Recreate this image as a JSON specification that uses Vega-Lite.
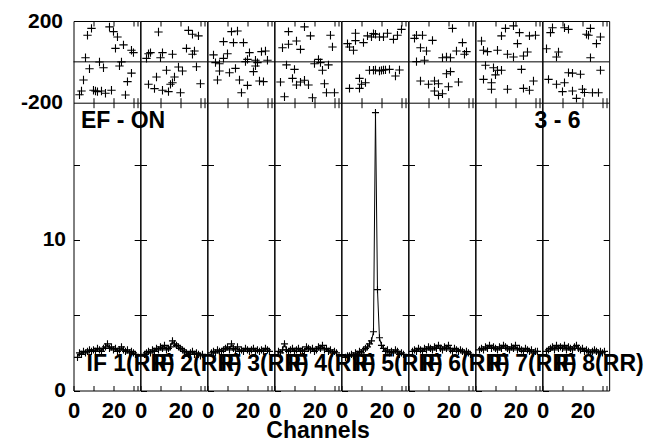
{
"$schema": "https://vega.github.io/schema/vega-lite/v6.json",
"padding": {"left": 19.5, "top": 9, "right": 0, "bottom": 0},
"background": "white",
"datasets": {
"amp": [
{"i":1,"c":2,"a":2.2},{"i":1,"c":3,"a":2.5},{"i":1,"c":4,"a":2.4},{"i":1,"c":5,"a":2.6},{"i":1,"c":6,"a":2.5},{"i":1,"c":7,"a":2.6},{"i":1,"c":8,"a":2.7},{"i":1,"c":9,"a":2.6},{"i":1,"c":10,"a":2.7},{"i":1,"c":11,"a":2.6},{"i":1,"c":12,"a":2.8},{"i":1,"c":13,"a":2.7},{"i":1,"c":14,"a":2.6},{"i":1,"c":15,"a":2.8},{"i":1,"c":16,"a":2.9},{"i":1,"c":17,"a":3.1},{"i":1,"c":18,"a":2.8},{"i":1,"c":19,"a":2.9},{"i":1,"c":20,"a":2.7},{"i":1,"c":21,"a":2.8},{"i":1,"c":22,"a":2.6},{"i":1,"c":23,"a":2.7},{"i":1,"c":24,"a":2.9},{"i":1,"c":25,"a":2.7},{"i":1,"c":26,"a":2.6},{"i":1,"c":27,"a":2.7},{"i":1,"c":28,"a":2.5},{"i":1,"c":29,"a":2.6},{"i":1,"c":30,"a":2.5},{"i":1,"c":31,"a":2.4},
{"i":2,"c":2,"a":2.4},{"i":2,"c":3,"a":2.5},{"i":2,"c":4,"a":2.6},{"i":2,"c":5,"a":2.5},{"i":2,"c":6,"a":2.7},{"i":2,"c":7,"a":2.6},{"i":2,"c":8,"a":2.8},{"i":2,"c":9,"a":2.7},{"i":2,"c":10,"a":2.9},{"i":2,"c":11,"a":2.8},{"i":2,"c":12,"a":3.0},{"i":2,"c":13,"a":2.7},{"i":2,"c":14,"a":2.8},{"i":2,"c":15,"a":2.9},{"i":2,"c":16,"a":3.3},{"i":2,"c":17,"a":3.1},{"i":2,"c":18,"a":3.0},{"i":2,"c":19,"a":2.9},{"i":2,"c":20,"a":2.8},{"i":2,"c":21,"a":2.7},{"i":2,"c":22,"a":2.6},{"i":2,"c":23,"a":2.5},{"i":2,"c":24,"a":2.4},{"i":2,"c":25,"a":2.5},{"i":2,"c":26,"a":2.6},{"i":2,"c":27,"a":2.4},{"i":2,"c":28,"a":2.5},{"i":2,"c":29,"a":2.4},{"i":2,"c":30,"a":2.3},{"i":2,"c":31,"a":2.4},
{"i":3,"c":2,"a":2.5},{"i":3,"c":3,"a":2.6},{"i":3,"c":4,"a":2.5},{"i":3,"c":5,"a":2.7},{"i":3,"c":6,"a":2.6},{"i":3,"c":7,"a":2.6},{"i":3,"c":8,"a":2.7},{"i":3,"c":9,"a":2.8},{"i":3,"c":10,"a":2.9},{"i":3,"c":11,"a":2.7},{"i":3,"c":12,"a":3.1},{"i":3,"c":13,"a":2.8},{"i":3,"c":14,"a":2.7},{"i":3,"c":15,"a":2.9},{"i":3,"c":16,"a":2.6},{"i":3,"c":17,"a":2.7},{"i":3,"c":18,"a":2.6},{"i":3,"c":19,"a":2.8},{"i":3,"c":20,"a":2.7},{"i":3,"c":21,"a":2.6},{"i":3,"c":22,"a":2.7},{"i":3,"c":23,"a":2.8},{"i":3,"c":24,"a":2.6},{"i":3,"c":25,"a":2.7},{"i":3,"c":26,"a":2.6},{"i":3,"c":27,"a":2.7},{"i":3,"c":28,"a":2.6},{"i":3,"c":29,"a":2.8},{"i":3,"c":30,"a":2.7},{"i":3,"c":31,"a":2.6},
{"i":4,"c":2,"a":2.6},{"i":4,"c":3,"a":2.5},{"i":4,"c":4,"a":2.7},{"i":4,"c":5,"a":3.1},{"i":4,"c":6,"a":2.7},{"i":4,"c":7,"a":2.6},{"i":4,"c":8,"a":2.7},{"i":4,"c":9,"a":2.8},{"i":4,"c":10,"a":2.6},{"i":4,"c":11,"a":2.7},{"i":4,"c":12,"a":2.8},{"i":4,"c":13,"a":2.6},{"i":4,"c":14,"a":2.7},{"i":4,"c":15,"a":2.6},{"i":4,"c":16,"a":2.9},{"i":4,"c":17,"a":2.8},{"i":4,"c":18,"a":2.7},{"i":4,"c":19,"a":2.8},{"i":4,"c":20,"a":2.6},{"i":4,"c":21,"a":2.7},{"i":4,"c":22,"a":2.9},{"i":4,"c":23,"a":2.8},{"i":4,"c":24,"a":3.0},{"i":4,"c":25,"a":2.7},{"i":4,"c":26,"a":2.8},{"i":4,"c":27,"a":2.6},{"i":4,"c":28,"a":2.7},{"i":4,"c":29,"a":2.5},{"i":4,"c":30,"a":2.6},{"i":4,"c":31,"a":2.5},
{"i":5,"c":2,"a":2.2},{"i":5,"c":3,"a":2.3},{"i":5,"c":4,"a":2.3},{"i":5,"c":5,"a":2.4},{"i":5,"c":6,"a":2.3},{"i":5,"c":7,"a":2.5},{"i":5,"c":8,"a":2.4},{"i":5,"c":9,"a":2.6},{"i":5,"c":10,"a":2.5},{"i":5,"c":11,"a":2.7},{"i":5,"c":12,"a":2.8},{"i":5,"c":13,"a":2.9},{"i":5,"c":14,"a":3.1},{"i":5,"c":15,"a":3.3},{"i":5,"c":16,"a":3.9},{"i":5,"c":17,"a":18.46},{"i":5,"c":18,"a":6.7},{"i":5,"c":19,"a":3.5},{"i":5,"c":20,"a":3.0},{"i":5,"c":21,"a":2.8},{"i":5,"c":22,"a":2.6},{"i":5,"c":23,"a":2.7},{"i":5,"c":24,"a":2.5},{"i":5,"c":25,"a":2.6},{"i":5,"c":26,"a":2.5},{"i":5,"c":27,"a":2.7},{"i":5,"c":28,"a":2.6},{"i":5,"c":29,"a":2.4},{"i":5,"c":30,"a":2.5},{"i":5,"c":31,"a":2.4},
{"i":6,"c":2,"a":2.6},{"i":6,"c":3,"a":2.7},{"i":6,"c":4,"a":2.6},{"i":6,"c":5,"a":2.8},{"i":6,"c":6,"a":2.7},{"i":6,"c":7,"a":2.6},{"i":6,"c":8,"a":2.8},{"i":6,"c":9,"a":2.7},{"i":6,"c":10,"a":2.9},{"i":6,"c":11,"a":2.8},{"i":6,"c":12,"a":2.7},{"i":6,"c":13,"a":2.9},{"i":6,"c":14,"a":2.8},{"i":6,"c":15,"a":3.0},{"i":6,"c":16,"a":2.8},{"i":6,"c":17,"a":2.7},{"i":6,"c":18,"a":2.9},{"i":6,"c":19,"a":2.8},{"i":6,"c":20,"a":3.0},{"i":6,"c":21,"a":2.7},{"i":6,"c":22,"a":2.6},{"i":6,"c":23,"a":2.8},{"i":6,"c":24,"a":2.7},{"i":6,"c":25,"a":2.6},{"i":6,"c":26,"a":2.7},{"i":6,"c":27,"a":2.6},{"i":6,"c":28,"a":2.5},{"i":6,"c":29,"a":2.6},{"i":6,"c":30,"a":2.5},{"i":6,"c":31,"a":2.4},
{"i":7,"c":2,"a":2.7},{"i":7,"c":3,"a":2.8},{"i":7,"c":4,"a":2.7},{"i":7,"c":5,"a":2.9},{"i":7,"c":6,"a":2.8},{"i":7,"c":7,"a":3.0},{"i":7,"c":8,"a":2.8},{"i":7,"c":9,"a":2.9},{"i":7,"c":10,"a":2.8},{"i":7,"c":11,"a":2.7},{"i":7,"c":12,"a":2.9},{"i":7,"c":13,"a":2.8},{"i":7,"c":14,"a":3.0},{"i":7,"c":15,"a":2.9},{"i":7,"c":16,"a":2.8},{"i":7,"c":17,"a":2.7},{"i":7,"c":18,"a":2.9},{"i":7,"c":19,"a":2.8},{"i":7,"c":20,"a":3.0},{"i":7,"c":21,"a":2.7},{"i":7,"c":22,"a":2.8},{"i":7,"c":23,"a":2.7},{"i":7,"c":24,"a":2.6},{"i":7,"c":25,"a":2.8},{"i":7,"c":26,"a":2.7},{"i":7,"c":27,"a":2.6},{"i":7,"c":28,"a":2.7},{"i":7,"c":29,"a":2.5},{"i":7,"c":30,"a":2.6},{"i":7,"c":31,"a":2.6},
{"i":8,"c":2,"a":2.6},{"i":8,"c":3,"a":2.7},{"i":8,"c":4,"a":2.8},{"i":8,"c":5,"a":2.9},{"i":8,"c":6,"a":2.7},{"i":8,"c":7,"a":3.0},{"i":8,"c":8,"a":2.8},{"i":8,"c":9,"a":2.9},{"i":8,"c":10,"a":2.8},{"i":8,"c":11,"a":3.0},{"i":8,"c":12,"a":2.7},{"i":8,"c":13,"a":2.9},{"i":8,"c":14,"a":2.8},{"i":8,"c":15,"a":2.7},{"i":8,"c":16,"a":2.9},{"i":8,"c":17,"a":3.0},{"i":8,"c":18,"a":2.8},{"i":8,"c":19,"a":2.7},{"i":8,"c":20,"a":2.8},{"i":8,"c":21,"a":2.6},{"i":8,"c":22,"a":2.7},{"i":8,"c":23,"a":2.6},{"i":8,"c":24,"a":2.5},{"i":8,"c":25,"a":2.6},{"i":8,"c":26,"a":2.7},{"i":8,"c":27,"a":2.6},{"i":8,"c":28,"a":2.5},{"i":8,"c":29,"a":2.6},{"i":8,"c":30,"a":2.5},{"i":8,"c":31,"a":2.6}
],
"phase": [
{"i":1,"c":9,"p":164},{"i":1,"c":7,"p":130},{"i":1,"c":18,"p":171},{"i":1,"c":20,"p":148},{"i":1,"c":22,"p":122},{"i":1,"c":25,"p":83},{"i":1,"c":21,"p":66},{"i":1,"c":29,"p":57},{"i":1,"c":30,"p":45},{"i":1,"c":6,"p":20},{"i":1,"c":13,"p":-1},{"i":1,"c":24,"p":0},{"i":1,"c":8,"p":-34},{"i":1,"c":15,"p":-29},{"i":1,"c":23,"p":-20},{"i":1,"c":29,"p":-55},{"i":1,"c":5,"p":-89},{"i":1,"c":27,"p":-97},{"i":1,"c":4,"p":-143},{"i":1,"c":3,"p":-161},{"i":1,"c":10,"p":-139},{"i":1,"c":11,"p":-143},{"i":1,"c":12,"p":-146},{"i":1,"c":14,"p":-143},{"i":1,"c":16,"p":-154},{"i":1,"c":19,"p":-139},{"i":1,"c":26,"p":-162},
{"i":2,"c":9,"p":146},{"i":2,"c":24,"p":154},{"i":2,"c":26,"p":135},{"i":2,"c":29,"p":127},{"i":2,"c":23,"p":66},{"i":2,"c":27,"p":53},{"i":2,"c":26,"p":37},{"i":2,"c":5,"p":45},{"i":2,"c":4,"p":40},{"i":2,"c":3,"p":17},{"i":2,"c":11,"p":45},{"i":2,"c":16,"p":37},{"i":2,"c":10,"p":20},{"i":2,"c":28,"p":-24},{"i":2,"c":13,"p":-41},{"i":2,"c":19,"p":-25},{"i":2,"c":21,"p":-45},{"i":2,"c":8,"p":-74},{"i":2,"c":17,"p":-74},{"i":2,"c":4,"p":-110},{"i":2,"c":7,"p":-131},{"i":2,"c":11,"p":-139},{"i":2,"c":15,"p":-110},{"i":2,"c":16,"p":-102},{"i":2,"c":14,"p":-146},{"i":2,"c":20,"p":-151},{"i":2,"c":30,"p":-107},
{"i":3,"c":12,"p":148},{"i":3,"c":15,"p":151},{"i":3,"c":8,"p":99},{"i":3,"c":13,"p":94},{"i":3,"c":18,"p":94},{"i":3,"c":3,"p":34},{"i":3,"c":10,"p":40},{"i":3,"c":8,"p":17},{"i":3,"c":21,"p":45},{"i":3,"c":27,"p":50},{"i":3,"c":29,"p":53},{"i":3,"c":20,"p":12},{"i":3,"c":24,"p":8},{"i":3,"c":30,"p":8},{"i":3,"c":4,"p":-4},{"i":3,"c":6,"p":-9},{"i":3,"c":19,"p":1},{"i":3,"c":25,"p":-4},{"i":3,"c":6,"p":-45},{"i":3,"c":11,"p":-53},{"i":3,"c":14,"p":-32},{"i":3,"c":23,"p":-48},{"i":3,"c":24,"p":-20},{"i":3,"c":5,"p":-89},{"i":3,"c":16,"p":-89},{"i":3,"c":20,"p":-115},{"i":3,"c":26,"p":-94},{"i":3,"c":28,"p":-97},{"i":3,"c":17,"p":-151},
{"i":4,"c":15,"p":171},{"i":4,"c":7,"p":148},{"i":4,"c":18,"p":127},{"i":4,"c":28,"p":130},{"i":4,"c":29,"p":73},{"i":4,"c":4,"p":69},{"i":4,"c":7,"p":86},{"i":4,"c":11,"p":102},{"i":4,"c":13,"p":61},{"i":4,"c":22,"p":12},{"i":4,"c":20,"p":-9},{"i":4,"c":27,"p":-15},{"i":4,"c":23,"p":-4},{"i":4,"c":6,"p":-15},{"i":4,"c":10,"p":-37},{"i":4,"c":24,"p":-41},{"i":4,"c":9,"p":-81},{"i":4,"c":3,"p":-99},{"i":4,"c":13,"p":-99},{"i":4,"c":15,"p":-90},{"i":4,"c":17,"p":-113},{"i":4,"c":11,"p":-113},{"i":4,"c":25,"p":-107},{"i":4,"c":5,"p":-171},{"i":4,"c":19,"p":-176},{"i":4,"c":26,"p":-151},{"i":4,"c":30,"p":-151},
{"i":5,"c":3,"p":89},{"i":5,"c":4,"p":73},{"i":5,"c":6,"p":57},{"i":5,"c":7,"p":140},{"i":5,"c":7,"p":104},{"i":5,"c":11,"p":94},{"i":5,"c":13,"p":127},{"i":5,"c":15,"p":122},{"i":5,"c":16,"p":138},{"i":5,"c":17,"p":135},{"i":5,"c":19,"p":122},{"i":5,"c":21,"p":122},{"i":5,"c":23,"p":140},{"i":5,"c":26,"p":110},{"i":5,"c":28,"p":130},{"i":5,"c":30,"p":159},{"i":5,"c":4,"p":-130},{"i":5,"c":9,"p":-130},{"i":5,"c":10,"p":-110},{"i":5,"c":9,"p":-81},{"i":5,"c":12,"p":-102},{"i":5,"c":14,"p":-41},{"i":5,"c":16,"p":-41},{"i":5,"c":17,"p":-40},{"i":5,"c":19,"p":-45},{"i":5,"c":20,"p":-42},{"i":5,"c":21,"p":-40},{"i":5,"c":22,"p":-39},{"i":5,"c":24,"p":-37},{"i":5,"c":27,"p":-69},{"i":5,"c":29,"p":-40},
{"i":6,"c":3,"p":115},{"i":6,"c":4,"p":130},{"i":6,"c":7,"p":130},{"i":6,"c":12,"p":105},{"i":6,"c":22,"p":164},{"i":6,"c":6,"p":69},{"i":6,"c":9,"p":53},{"i":6,"c":27,"p":94},{"i":6,"c":29,"p":50},{"i":6,"c":28,"p":37},{"i":6,"c":24,"p":53},{"i":6,"c":17,"p":20},{"i":6,"c":19,"p":24},{"i":6,"c":21,"p":20},{"i":6,"c":4,"p":1},{"i":6,"c":8,"p":8},{"i":6,"c":21,"p":-48},{"i":6,"c":19,"p":-58},{"i":6,"c":6,"p":-94},{"i":6,"c":10,"p":-110},{"i":6,"c":13,"p":-94},{"i":6,"c":15,"p":-107},{"i":6,"c":13,"p":-143},{"i":6,"c":15,"p":-164},{"i":6,"c":17,"p":-156},{"i":6,"c":20,"p":-122},{"i":6,"c":25,"p":-99},
{"i":7,"c":3,"p":102},{"i":7,"c":13,"p":127},{"i":7,"c":15,"p":164},{"i":7,"c":19,"p":176},{"i":7,"c":22,"p":143},{"i":7,"c":27,"p":127},{"i":7,"c":30,"p":130},{"i":7,"c":21,"p":89},{"i":7,"c":4,"p":57},{"i":7,"c":6,"p":50},{"i":7,"c":11,"p":57},{"i":7,"c":16,"p":37},{"i":7,"c":19,"p":24},{"i":7,"c":24,"p":29},{"i":7,"c":26,"p":48},{"i":7,"c":5,"p":-17},{"i":7,"c":9,"p":-29},{"i":7,"c":11,"p":-41},{"i":7,"c":13,"p":-41},{"i":7,"c":10,"p":-64},{"i":7,"c":4,"p":-86},{"i":7,"c":8,"p":-102},{"i":7,"c":8,"p":-134},{"i":7,"c":16,"p":-134},{"i":7,"c":23,"p":-37},{"i":7,"c":24,"p":-130},{"i":7,"c":27,"p":-139},{"i":7,"c":29,"p":-94},
{"i":8,"c":5,"p":167},{"i":8,"c":11,"p":167},{"i":8,"c":13,"p":159},{"i":8,"c":4,"p":143},{"i":8,"c":24,"p":164},{"i":8,"c":22,"p":135},{"i":8,"c":23,"p":130},{"i":8,"c":29,"p":122},{"i":8,"c":27,"p":89},{"i":8,"c":2,"p":64},{"i":8,"c":8,"p":48},{"i":8,"c":7,"p":24},{"i":8,"c":24,"p":20},{"i":8,"c":29,"p":-41},{"i":8,"c":13,"p":-53},{"i":8,"c":15,"p":-55},{"i":8,"c":19,"p":-61},{"i":8,"c":3,"p":-86},{"i":8,"c":7,"p":-110},{"i":8,"c":11,"p":-102},{"i":8,"c":10,"p":-146},{"i":8,"c":15,"p":-143},{"i":8,"c":20,"p":-134},{"i":8,"c":21,"p":-150},{"i":8,"c":17,"p":-179},{"i":8,"c":25,"p":-151},{"i":8,"c":28,"p":-151}
]
},
"config": {
"view": {"stroke": "black", "strokeWidth": 1},
"font": "Liberation Sans",
"axis": {"domain": false, "grid": false, "tickColor": "black", "tickWidth": 1, "domainColor": "black", "domainWidth": 1, "labelFont": "Liberation Sans", "labelFontWeight": "bold", "labelFontSize": 22, "labelColor": "black", "labelFlush": false},
"point": {"shape": "M-1,0L1,0M0,-1L0,1", "filled": false, "stroke": "black", "strokeWidth": 1.1, "opacity": 1},
"text": {"font": "Liberation Sans", "fontWeight": "bold", "fontSize": 23, "color": "black", "baseline": "alphabetic"}
},
"title": {"text": "Channels", "orient": "bottom", "anchor": "middle", "fontSize": 23, "fontWeight": "bold", "font": "Liberation Sans", "color": "black", "offset": -2, "dx": -14},
"spacing": 0,
"bounds": "flush",
"hconcat": [
{"width": 66.67, "height": 369.5, "resolve": {"scale": {"x": "independent", "y": "independent"}}, "layer": [
{"data": {"name": "phase"}, "transform": [{"filter": "datum.i == 1"}], "mark": {"type": "point", "size": 70},
 "encoding": {"x": {"field": "c", "type": "quantitative", "scale": {"domain": [0, 33.35], "nice": false, "zero": false}, "axis": {"orient": "top", "values": [10, 20, 30, 32], "labels": false, "tickSize": -5, "title": null}},
 "y": {"field": "p", "type": "quantitative", "scale": {"domain": [-200, 200], "range": [81.7, 0], "nice": false}, "axis": {"orient": "left", "values": [-200, 200], "labelExpr": "'' + datum.value", "ticks": false, "labelPadding": 11, "labelFontSize": 21, "title": null}}}},
{"data": {"values": [{}]}, "mark": {"type": "rule", "color": "black", "strokeWidth": 1},
 "encoding": {"x": {"datum": 0, "type": "quantitative", "scale": {"domain": [0, 33.35], "nice": false}, "axis": {"orient": "bottom", "offset": -287.8, "domain": true, "values": [10, 20, 30, 32], "labels": false, "tickSize": -5, "title": null}}, "x2": {"datum": 33.35},
 "y": {"datum": 0, "type": "quantitative", "scale": {"domain": [-200, 200], "range": [81.7, 0], "nice": false}, "axis": null}}},
{"data": {"name": "amp"}, "transform": [{"filter": "datum.i == 1"}], "mark": {"type": "line", "color": "black", "strokeWidth": 1},
 "encoding": {"x": {"field": "c", "type": "quantitative", "scale": {"domain": [0, 33.35], "nice": false, "zero": false}, "axis": {"orient": "bottom", "values": [0, 10, 20, 30, 32], "labelExpr": "datum.value == 0 || datum.value == 20 ? datum.label : ''", "tickSize": -5, "labelPadding": 15, "title": null}},
 "y": {"field": "a", "type": "quantitative", "scale": {"domain": [0, 19.12], "range": [369.5, 81.7], "nice": false}, "axis": {"orient": "left", "values": [0, 5, 10, 15], "labelExpr": "datum.value == 0 || datum.value == 10 ? datum.label : ''", "tickSize": -6, "labelPadding": 14, "labelFontSize": 21, "title": null}}}},
{"data": {"name": "amp"}, "transform": [{"filter": "datum.i == 1"}], "mark": {"type": "point", "size": 50},
 "encoding": {"x": {"field": "c", "type": "quantitative", "scale": {"domain": [0, 33.35], "nice": false, "zero": false}, "axis": {"orient": "top", "offset": -81.7, "values": [10, 20, 30, 32], "labels": false, "tickSize": -5, "title": null}},
 "y": {"field": "a", "type": "quantitative", "scale": {"domain": [0, 19.12], "range": [369.5, 81.7], "nice": false}, "axis": {"orient": "right", "values": [5, 10, 15], "labels": false, "tickSize": -6, "title": null}}}},
{"data": {"values": [{"t": "IF 1(RR)"}]}, "mark": {"type": "text", "align": "left"},
 "encoding": {"text": {"field": "t"}, "x": {"datum": 6.5, "type": "quantitative", "scale": {"domain": [0, 33.35], "nice": false}, "axis": null}, "y": {"datum": 1.3, "type": "quantitative", "scale": {"domain": [0, 19.12], "range": [369.5, 81.7], "nice": false}, "axis": null}}},
{"data": {"values": [{"t": "EF - ON"}]}, "mark": {"type": "text", "align": "left"},
 "encoding": {"text": {"field": "t"}, "x": {"datum": 3.7, "type": "quantitative", "scale": {"domain": [0, 33.35], "nice": false}, "axis": null}, "y": {"datum": 17.42, "type": "quantitative", "scale": {"domain": [0, 19.12], "range": [369.5, 81.7], "nice": false}, "axis": null}}}
]},
{"width": 66.67, "height": 369.5, "resolve": {"scale": {"x": "independent", "y": "independent"}}, "layer": [
{"data": {"name": "phase"}, "transform": [{"filter": "datum.i == 2"}], "mark": {"type": "point", "size": 70},
 "encoding": {"x": {"field": "c", "type": "quantitative", "scale": {"domain": [0, 33.35], "nice": false, "zero": false}, "axis": {"orient": "top", "values": [10, 20, 30, 32], "labels": false, "tickSize": -5, "title": null}},
 "y": {"field": "p", "type": "quantitative", "scale": {"domain": [-200, 200], "range": [81.7, 0], "nice": false}, "axis": null}}},
{"data": {"values": [{}]}, "mark": {"type": "rule", "color": "black", "strokeWidth": 1},
 "encoding": {"x": {"datum": 0, "type": "quantitative", "scale": {"domain": [0, 33.35], "nice": false}, "axis": {"orient": "bottom", "offset": -287.8, "domain": true, "values": [10, 20, 30, 32], "labels": false, "tickSize": -5, "title": null}}, "x2": {"datum": 33.35},
 "y": {"datum": 0, "type": "quantitative", "scale": {"domain": [-200, 200], "range": [81.7, 0], "nice": false}, "axis": null}}},
{"data": {"name": "amp"}, "transform": [{"filter": "datum.i == 2"}], "mark": {"type": "line", "color": "black", "strokeWidth": 1},
 "encoding": {"x": {"field": "c", "type": "quantitative", "scale": {"domain": [0, 33.35], "nice": false, "zero": false}, "axis": {"orient": "bottom", "values": [0, 10, 20, 30, 32], "labelExpr": "datum.value == 0 || datum.value == 20 ? datum.label : ''", "tickSize": -5, "labelPadding": 15, "title": null}},
 "y": {"field": "a", "type": "quantitative", "scale": {"domain": [0, 19.12], "range": [369.5, 81.7], "nice": false}, "axis": {"orient": "left", "values": [0, 5, 10, 15], "labels": false, "tickSize": -6, "title": null}}}},
{"data": {"name": "amp"}, "transform": [{"filter": "datum.i == 2"}], "mark": {"type": "point", "size": 50},
 "encoding": {"x": {"field": "c", "type": "quantitative", "scale": {"domain": [0, 33.35], "nice": false, "zero": false}, "axis": {"orient": "top", "offset": -81.7, "values": [10, 20, 30, 32], "labels": false, "tickSize": -5, "title": null}},
 "y": {"field": "a", "type": "quantitative", "scale": {"domain": [0, 19.12], "range": [369.5, 81.7], "nice": false}, "axis": {"orient": "right", "values": [5, 10, 15], "labels": false, "tickSize": -6, "title": null}}}},
{"data": {"values": [{"t": "IF 2(RR)"}]}, "mark": {"type": "text", "align": "left"},
 "encoding": {"text": {"field": "t"}, "x": {"datum": 6.5, "type": "quantitative", "scale": {"domain": [0, 33.35], "nice": false}, "axis": null}, "y": {"datum": 1.3, "type": "quantitative", "scale": {"domain": [0, 19.12], "range": [369.5, 81.7], "nice": false}, "axis": null}}}
]},
{"width": 66.67, "height": 369.5, "resolve": {"scale": {"x": "independent", "y": "independent"}}, "layer": [
{"data": {"name": "phase"}, "transform": [{"filter": "datum.i == 3"}], "mark": {"type": "point", "size": 70},
 "encoding": {"x": {"field": "c", "type": "quantitative", "scale": {"domain": [0, 33.35], "nice": false, "zero": false}, "axis": {"orient": "top", "values": [10, 20, 30, 32], "labels": false, "tickSize": -5, "title": null}},
 "y": {"field": "p", "type": "quantitative", "scale": {"domain": [-200, 200], "range": [81.7, 0], "nice": false}, "axis": null}}},
{"data": {"values": [{}]}, "mark": {"type": "rule", "color": "black", "strokeWidth": 1},
 "encoding": {"x": {"datum": 0, "type": "quantitative", "scale": {"domain": [0, 33.35], "nice": false}, "axis": {"orient": "bottom", "offset": -287.8, "domain": true, "values": [10, 20, 30, 32], "labels": false, "tickSize": -5, "title": null}}, "x2": {"datum": 33.35},
 "y": {"datum": 0, "type": "quantitative", "scale": {"domain": [-200, 200], "range": [81.7, 0], "nice": false}, "axis": null}}},
{"data": {"name": "amp"}, "transform": [{"filter": "datum.i == 3"}], "mark": {"type": "line", "color": "black", "strokeWidth": 1},
 "encoding": {"x": {"field": "c", "type": "quantitative", "scale": {"domain": [0, 33.35], "nice": false, "zero": false}, "axis": {"orient": "bottom", "values": [0, 10, 20, 30, 32], "labelExpr": "datum.value == 0 || datum.value == 20 ? datum.label : ''", "tickSize": -5, "labelPadding": 15, "title": null}},
 "y": {"field": "a", "type": "quantitative", "scale": {"domain": [0, 19.12], "range": [369.5, 81.7], "nice": false}, "axis": {"orient": "left", "values": [0, 5, 10, 15], "labels": false, "tickSize": -6, "title": null}}}},
{"data": {"name": "amp"}, "transform": [{"filter": "datum.i == 3"}], "mark": {"type": "point", "size": 50},
 "encoding": {"x": {"field": "c", "type": "quantitative", "scale": {"domain": [0, 33.35], "nice": false, "zero": false}, "axis": {"orient": "top", "offset": -81.7, "values": [10, 20, 30, 32], "labels": false, "tickSize": -5, "title": null}},
 "y": {"field": "a", "type": "quantitative", "scale": {"domain": [0, 19.12], "range": [369.5, 81.7], "nice": false}, "axis": {"orient": "right", "values": [5, 10, 15], "labels": false, "tickSize": -6, "title": null}}}},
{"data": {"values": [{"t": "IF 3(RR)"}]}, "mark": {"type": "text", "align": "left"},
 "encoding": {"text": {"field": "t"}, "x": {"datum": 6.5, "type": "quantitative", "scale": {"domain": [0, 33.35], "nice": false}, "axis": null}, "y": {"datum": 1.3, "type": "quantitative", "scale": {"domain": [0, 19.12], "range": [369.5, 81.7], "nice": false}, "axis": null}}}
]},
{"width": 66.67, "height": 369.5, "resolve": {"scale": {"x": "independent", "y": "independent"}}, "layer": [
{"data": {"name": "phase"}, "transform": [{"filter": "datum.i == 4"}], "mark": {"type": "point", "size": 70},
 "encoding": {"x": {"field": "c", "type": "quantitative", "scale": {"domain": [0, 33.35], "nice": false, "zero": false}, "axis": {"orient": "top", "values": [10, 20, 30, 32], "labels": false, "tickSize": -5, "title": null}},
 "y": {"field": "p", "type": "quantitative", "scale": {"domain": [-200, 200], "range": [81.7, 0], "nice": false}, "axis": null}}},
{"data": {"values": [{}]}, "mark": {"type": "rule", "color": "black", "strokeWidth": 1},
 "encoding": {"x": {"datum": 0, "type": "quantitative", "scale": {"domain": [0, 33.35], "nice": false}, "axis": {"orient": "bottom", "offset": -287.8, "domain": true, "values": [10, 20, 30, 32], "labels": false, "tickSize": -5, "title": null}}, "x2": {"datum": 33.35},
 "y": {"datum": 0, "type": "quantitative", "scale": {"domain": [-200, 200], "range": [81.7, 0], "nice": false}, "axis": null}}},
{"data": {"name": "amp"}, "transform": [{"filter": "datum.i == 4"}], "mark": {"type": "line", "color": "black", "strokeWidth": 1},
 "encoding": {"x": {"field": "c", "type": "quantitative", "scale": {"domain": [0, 33.35], "nice": false, "zero": false}, "axis": {"orient": "bottom", "values": [0, 10, 20, 30, 32], "labelExpr": "datum.value == 0 || datum.value == 20 ? datum.label : ''", "tickSize": -5, "labelPadding": 15, "title": null}},
 "y": {"field": "a", "type": "quantitative", "scale": {"domain": [0, 19.12], "range": [369.5, 81.7], "nice": false}, "axis": {"orient": "left", "values": [0, 5, 10, 15], "labels": false, "tickSize": -6, "title": null}}}},
{"data": {"name": "amp"}, "transform": [{"filter": "datum.i == 4"}], "mark": {"type": "point", "size": 50},
 "encoding": {"x": {"field": "c", "type": "quantitative", "scale": {"domain": [0, 33.35], "nice": false, "zero": false}, "axis": {"orient": "top", "offset": -81.7, "values": [10, 20, 30, 32], "labels": false, "tickSize": -5, "title": null}},
 "y": {"field": "a", "type": "quantitative", "scale": {"domain": [0, 19.12], "range": [369.5, 81.7], "nice": false}, "axis": {"orient": "right", "values": [5, 10, 15], "labels": false, "tickSize": -6, "title": null}}}},
{"data": {"values": [{"t": "IF 4(RR)"}]}, "mark": {"type": "text", "align": "left"},
 "encoding": {"text": {"field": "t"}, "x": {"datum": 6.5, "type": "quantitative", "scale": {"domain": [0, 33.35], "nice": false}, "axis": null}, "y": {"datum": 1.3, "type": "quantitative", "scale": {"domain": [0, 19.12], "range": [369.5, 81.7], "nice": false}, "axis": null}}}
]},
{"width": 66.67, "height": 369.5, "resolve": {"scale": {"x": "independent", "y": "independent"}}, "layer": [
{"data": {"name": "phase"}, "transform": [{"filter": "datum.i == 5"}], "mark": {"type": "point", "size": 70},
 "encoding": {"x": {"field": "c", "type": "quantitative", "scale": {"domain": [0, 33.35], "nice": false, "zero": false}, "axis": {"orient": "top", "values": [10, 20, 30, 32], "labels": false, "tickSize": -5, "title": null}},
 "y": {"field": "p", "type": "quantitative", "scale": {"domain": [-200, 200], "range": [81.7, 0], "nice": false}, "axis": null}}},
{"data": {"values": [{}]}, "mark": {"type": "rule", "color": "black", "strokeWidth": 1},
 "encoding": {"x": {"datum": 0, "type": "quantitative", "scale": {"domain": [0, 33.35], "nice": false}, "axis": {"orient": "bottom", "offset": -287.8, "domain": true, "values": [10, 20, 30, 32], "labels": false, "tickSize": -5, "title": null}}, "x2": {"datum": 33.35},
 "y": {"datum": 0, "type": "quantitative", "scale": {"domain": [-200, 200], "range": [81.7, 0], "nice": false}, "axis": null}}},
{"data": {"name": "amp"}, "transform": [{"filter": "datum.i == 5"}], "mark": {"type": "line", "color": "black", "strokeWidth": 1},
 "encoding": {"x": {"field": "c", "type": "quantitative", "scale": {"domain": [0, 33.35], "nice": false, "zero": false}, "axis": {"orient": "bottom", "values": [0, 10, 20, 30, 32], "labelExpr": "datum.value == 0 || datum.value == 20 ? datum.label : ''", "tickSize": -5, "labelPadding": 15, "title": null}},
 "y": {"field": "a", "type": "quantitative", "scale": {"domain": [0, 19.12], "range": [369.5, 81.7], "nice": false}, "axis": {"orient": "left", "values": [0, 5, 10, 15], "labels": false, "tickSize": -6, "title": null}}}},
{"data": {"name": "amp"}, "transform": [{"filter": "datum.i == 5"}], "mark": {"type": "point", "size": 50},
 "encoding": {"x": {"field": "c", "type": "quantitative", "scale": {"domain": [0, 33.35], "nice": false, "zero": false}, "axis": {"orient": "top", "offset": -81.7, "values": [10, 20, 30, 32], "labels": false, "tickSize": -5, "title": null}},
 "y": {"field": "a", "type": "quantitative", "scale": {"domain": [0, 19.12], "range": [369.5, 81.7], "nice": false}, "axis": {"orient": "right", "values": [5, 10, 15], "labels": false, "tickSize": -6, "title": null}}}},
{"data": {"values": [{"t": "IF 5(RR)"}]}, "mark": {"type": "text", "align": "left"},
 "encoding": {"text": {"field": "t"}, "x": {"datum": 6.5, "type": "quantitative", "scale": {"domain": [0, 33.35], "nice": false}, "axis": null}, "y": {"datum": 1.3, "type": "quantitative", "scale": {"domain": [0, 19.12], "range": [369.5, 81.7], "nice": false}, "axis": null}}}
]},
{"width": 66.67, "height": 369.5, "resolve": {"scale": {"x": "independent", "y": "independent"}}, "layer": [
{"data": {"name": "phase"}, "transform": [{"filter": "datum.i == 6"}], "mark": {"type": "point", "size": 70},
 "encoding": {"x": {"field": "c", "type": "quantitative", "scale": {"domain": [0, 33.35], "nice": false, "zero": false}, "axis": {"orient": "top", "values": [10, 20, 30, 32], "labels": false, "tickSize": -5, "title": null}},
 "y": {"field": "p", "type": "quantitative", "scale": {"domain": [-200, 200], "range": [81.7, 0], "nice": false}, "axis": null}}},
{"data": {"values": [{}]}, "mark": {"type": "rule", "color": "black", "strokeWidth": 1},
 "encoding": {"x": {"datum": 0, "type": "quantitative", "scale": {"domain": [0, 33.35], "nice": false}, "axis": {"orient": "bottom", "offset": -287.8, "domain": true, "values": [10, 20, 30, 32], "labels": false, "tickSize": -5, "title": null}}, "x2": {"datum": 33.35},
 "y": {"datum": 0, "type": "quantitative", "scale": {"domain": [-200, 200], "range": [81.7, 0], "nice": false}, "axis": null}}},
{"data": {"name": "amp"}, "transform": [{"filter": "datum.i == 6"}], "mark": {"type": "line", "color": "black", "strokeWidth": 1},
 "encoding": {"x": {"field": "c", "type": "quantitative", "scale": {"domain": [0, 33.35], "nice": false, "zero": false}, "axis": {"orient": "bottom", "values": [0, 10, 20, 30, 32], "labelExpr": "datum.value == 0 || datum.value == 20 ? datum.label : ''", "tickSize": -5, "labelPadding": 15, "title": null}},
 "y": {"field": "a", "type": "quantitative", "scale": {"domain": [0, 19.12], "range": [369.5, 81.7], "nice": false}, "axis": {"orient": "left", "values": [0, 5, 10, 15], "labels": false, "tickSize": -6, "title": null}}}},
{"data": {"name": "amp"}, "transform": [{"filter": "datum.i == 6"}], "mark": {"type": "point", "size": 50},
 "encoding": {"x": {"field": "c", "type": "quantitative", "scale": {"domain": [0, 33.35], "nice": false, "zero": false}, "axis": {"orient": "top", "offset": -81.7, "values": [10, 20, 30, 32], "labels": false, "tickSize": -5, "title": null}},
 "y": {"field": "a", "type": "quantitative", "scale": {"domain": [0, 19.12], "range": [369.5, 81.7], "nice": false}, "axis": {"orient": "right", "values": [5, 10, 15], "labels": false, "tickSize": -6, "title": null}}}},
{"data": {"values": [{"t": "IF 6(RR)"}]}, "mark": {"type": "text", "align": "left"},
 "encoding": {"text": {"field": "t"}, "x": {"datum": 6.5, "type": "quantitative", "scale": {"domain": [0, 33.35], "nice": false}, "axis": null}, "y": {"datum": 1.3, "type": "quantitative", "scale": {"domain": [0, 19.12], "range": [369.5, 81.7], "nice": false}, "axis": null}}}
]},
{"width": 66.67, "height": 369.5, "resolve": {"scale": {"x": "independent", "y": "independent"}}, "layer": [
{"data": {"name": "phase"}, "transform": [{"filter": "datum.i == 7"}], "mark": {"type": "point", "size": 70},
 "encoding": {"x": {"field": "c", "type": "quantitative", "scale": {"domain": [0, 33.35], "nice": false, "zero": false}, "axis": {"orient": "top", "values": [10, 20, 30, 32], "labels": false, "tickSize": -5, "title": null}},
 "y": {"field": "p", "type": "quantitative", "scale": {"domain": [-200, 200], "range": [81.7, 0], "nice": false}, "axis": null}}},
{"data": {"values": [{}]}, "mark": {"type": "rule", "color": "black", "strokeWidth": 1},
 "encoding": {"x": {"datum": 0, "type": "quantitative", "scale": {"domain": [0, 33.35], "nice": false}, "axis": {"orient": "bottom", "offset": -287.8, "domain": true, "values": [10, 20, 30, 32], "labels": false, "tickSize": -5, "title": null}}, "x2": {"datum": 33.35},
 "y": {"datum": 0, "type": "quantitative", "scale": {"domain": [-200, 200], "range": [81.7, 0], "nice": false}, "axis": null}}},
{"data": {"name": "amp"}, "transform": [{"filter": "datum.i == 7"}], "mark": {"type": "line", "color": "black", "strokeWidth": 1},
 "encoding": {"x": {"field": "c", "type": "quantitative", "scale": {"domain": [0, 33.35], "nice": false, "zero": false}, "axis": {"orient": "bottom", "values": [0, 10, 20, 30, 32], "labelExpr": "datum.value == 0 || datum.value == 20 ? datum.label : ''", "tickSize": -5, "labelPadding": 15, "title": null}},
 "y": {"field": "a", "type": "quantitative", "scale": {"domain": [0, 19.12], "range": [369.5, 81.7], "nice": false}, "axis": {"orient": "left", "values": [0, 5, 10, 15], "labels": false, "tickSize": -6, "title": null}}}},
{"data": {"name": "amp"}, "transform": [{"filter": "datum.i == 7"}], "mark": {"type": "point", "size": 50},
 "encoding": {"x": {"field": "c", "type": "quantitative", "scale": {"domain": [0, 33.35], "nice": false, "zero": false}, "axis": {"orient": "top", "offset": -81.7, "values": [10, 20, 30, 32], "labels": false, "tickSize": -5, "title": null}},
 "y": {"field": "a", "type": "quantitative", "scale": {"domain": [0, 19.12], "range": [369.5, 81.7], "nice": false}, "axis": {"orient": "right", "values": [5, 10, 15], "labels": false, "tickSize": -6, "title": null}}}},
{"data": {"values": [{"t": "IF 7(RR)"}]}, "mark": {"type": "text", "align": "left"},
 "encoding": {"text": {"field": "t"}, "x": {"datum": 6.5, "type": "quantitative", "scale": {"domain": [0, 33.35], "nice": false}, "axis": null}, "y": {"datum": 1.3, "type": "quantitative", "scale": {"domain": [0, 19.12], "range": [369.5, 81.7], "nice": false}, "axis": null}}}
]},
{"width": 66.67, "height": 369.5, "resolve": {"scale": {"x": "independent", "y": "independent"}}, "layer": [
{"data": {"name": "phase"}, "transform": [{"filter": "datum.i == 8"}], "mark": {"type": "point", "size": 70},
 "encoding": {"x": {"field": "c", "type": "quantitative", "scale": {"domain": [0, 33.35], "nice": false, "zero": false}, "axis": {"orient": "top", "values": [10, 20, 30, 32], "labels": false, "tickSize": -5, "title": null}},
 "y": {"field": "p", "type": "quantitative", "scale": {"domain": [-200, 200], "range": [81.7, 0], "nice": false}, "axis": null}}},
{"data": {"values": [{}]}, "mark": {"type": "rule", "color": "black", "strokeWidth": 1},
 "encoding": {"x": {"datum": 0, "type": "quantitative", "scale": {"domain": [0, 33.35], "nice": false}, "axis": {"orient": "bottom", "offset": -287.8, "domain": true, "values": [10, 20, 30, 32], "labels": false, "tickSize": -5, "title": null}}, "x2": {"datum": 33.35},
 "y": {"datum": 0, "type": "quantitative", "scale": {"domain": [-200, 200], "range": [81.7, 0], "nice": false}, "axis": null}}},
{"data": {"name": "amp"}, "transform": [{"filter": "datum.i == 8"}], "mark": {"type": "line", "color": "black", "strokeWidth": 1},
 "encoding": {"x": {"field": "c", "type": "quantitative", "scale": {"domain": [0, 33.35], "nice": false, "zero": false}, "axis": {"orient": "bottom", "values": [0, 10, 20, 30, 32], "labelExpr": "datum.value == 0 || datum.value == 20 ? datum.label : ''", "tickSize": -5, "labelPadding": 15, "title": null}},
 "y": {"field": "a", "type": "quantitative", "scale": {"domain": [0, 19.12], "range": [369.5, 81.7], "nice": false}, "axis": {"orient": "left", "values": [0, 5, 10, 15], "labels": false, "tickSize": -6, "title": null}}}},
{"data": {"name": "amp"}, "transform": [{"filter": "datum.i == 8"}], "mark": {"type": "point", "size": 50},
 "encoding": {"x": {"field": "c", "type": "quantitative", "scale": {"domain": [0, 33.35], "nice": false, "zero": false}, "axis": {"orient": "top", "offset": -81.7, "values": [10, 20, 30, 32], "labels": false, "tickSize": -5, "title": null}},
 "y": {"field": "a", "type": "quantitative", "scale": {"domain": [0, 19.12], "range": [369.5, 81.7], "nice": false}, "axis": {"orient": "right", "values": [5, 10, 15], "labels": false, "tickSize": -6, "title": null}}}},
{"data": {"values": [{"t": "IF 8(RR)"}]}, "mark": {"type": "text", "align": "left"},
 "encoding": {"text": {"field": "t"}, "x": {"datum": 6.5, "type": "quantitative", "scale": {"domain": [0, 33.35], "nice": false}, "axis": null}, "y": {"datum": 1.3, "type": "quantitative", "scale": {"domain": [0, 19.12], "range": [369.5, 81.7], "nice": false}, "axis": null}}},
{"data": {"values": [{"t": "3 - 6"}]}, "mark": {"type": "text", "align": "right"},
 "encoding": {"text": {"field": "t"}, "x": {"datum": 19, "type": "quantitative", "scale": {"domain": [0, 33.35], "nice": false}, "axis": null}, "y": {"datum": 17.42, "type": "quantitative", "scale": {"domain": [0, 19.12], "range": [369.5, 81.7], "nice": false}, "axis": null}}}
]}
]
}
